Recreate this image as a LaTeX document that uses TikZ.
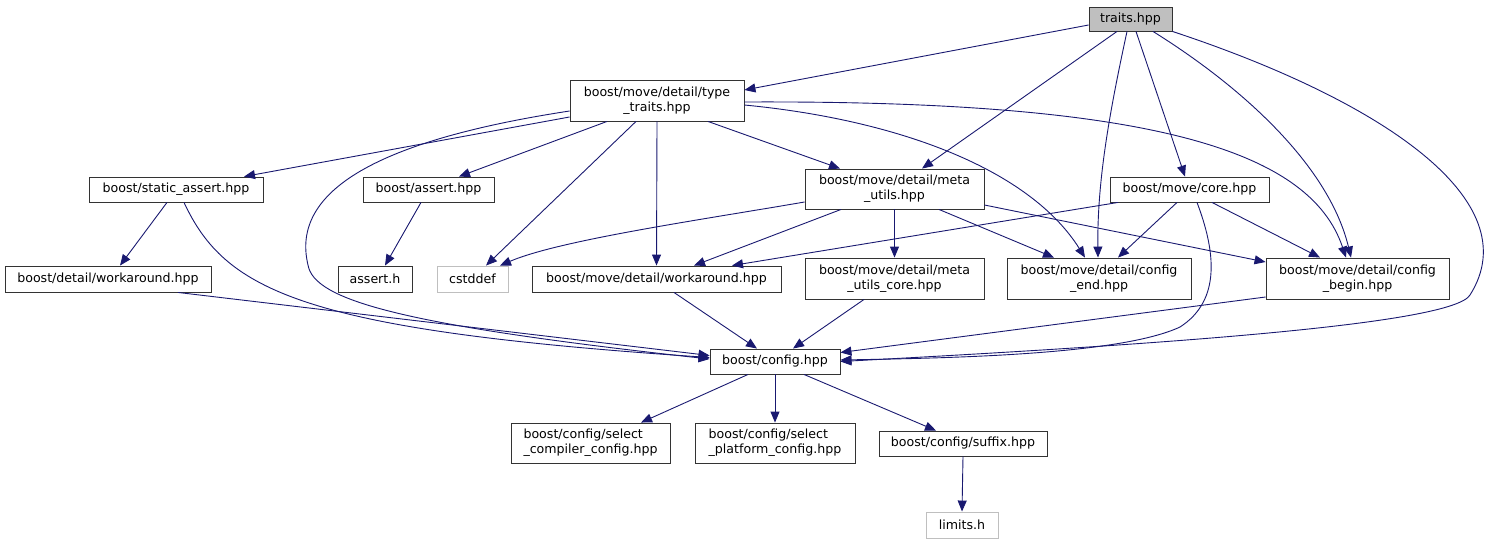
\documentclass[tikz,border=0pt]{standalone}
\usepackage{fontspec}
\usepackage{tikz}
\usetikzlibrary{arrows.meta}
\newfontfamily\doxfont{DejaVu Sans}
\definecolor{edgeblue}{HTML}{191970}
\definecolor{boxgray}{HTML}{BFBFBF}

\begin{document}
\begin{tikzpicture}[x=1pt, y=-1pt,
    file/.style={draw=black!80, line width=0.9pt, fill=white, inner sep=0pt,
      align=center, font=\doxfont\fontsize{12.6}{15}\selectfont},
    sysfile/.style={file, draw=boxgray},
    dep/.style={draw=edgeblue, line width=0.9pt,
      -{Triangle[length=11pt, width=9pt]}}
  ]
  % Page size of the reference graph
  \useasboundingbox (0,0) rectangle (1491,544);

  % Files, at the centres of their boxes
  \node[file, fill=boxgray, minimum width=83, minimum height=24]
    (traits) at (1130.5,19) {traits.hpp};
  \node[file, minimum width=174, minimum height=41]
    (tt) at (657,100.5) {boost/move/detail/type\\\_traits.hpp};
  \node[file, minimum width=174, minimum height=25]
    (sa) at (176,189.5) {boost/static\_assert.hpp};
  \node[file, minimum width=131, minimum height=25]
    (ba) at (428.5,189.5) {boost/assert.hpp};
  \node[file, minimum width=179, minimum height=40]
    (mu) at (894.5,189) {boost/move/detail/meta\\\_utils.hpp};
  \node[file, minimum width=159, minimum height=25]
    (core) at (1189.5,189.5) {boost/move/core.hpp};
  \node[file, minimum width=206, minimum height=26]
    (dw) at (108,279) {boost/detail/workaround.hpp};
  \node[file, minimum width=74, minimum height=26]
    (ah) at (375,279) {assert.h};
  \node[sysfile, minimum width=71, minimum height=26]
    (cst) at (472.5,279) {cstddef};
  \node[file, minimum width=249, minimum height=26]
    (mdw) at (656.5,279) {boost/move/detail/workaround.hpp};
  \node[file, minimum width=179, minimum height=41]
    (muc) at (894.5,278.5) {boost/move/detail/meta\\\_utils\_core.hpp};
  \node[file, minimum width=184, minimum height=41]
    (ce) at (1099,278.5) {boost/move/detail/config\\\_end.hpp};
  \node[file, minimum width=183, minimum height=41]
    (cb) at (1357.5,278.5) {boost/move/detail/config\\\_begin.hpp};
  \node[file, minimum width=130, minimum height=25]
    (cfg) at (775,361.5) {boost/config.hpp};
  \node[file, align=left, minimum width=159, minimum height=40]
    (scc) at (590.5,443) {boost/config/select\\\_compiler\_config.hpp};
  \node[file, align=left, minimum width=160, minimum height=40]
    (spc) at (775,443) {boost/config/select\\\_platform\_config.hpp};
  \node[file, minimum width=168, minimum height=25]
    (suf) at (963,443.5) {boost/config/suffix.hpp};
  \node[sysfile, minimum width=72, minimum height=26]
    (lim) at (962,525) {limits.h};

  % Includes of traits.hpp
  \draw[dep] ([yshift=-6pt]traits.west) -- ([yshift=10.5pt]tt.east);
  \draw[dep] ([xshift=-13.5pt]traits.south) -- ([xshift=27.5pt]mu.north);
  \draw[dep] ([xshift=-3.5pt]traits.south)
    .. controls (1110,110) and (1097,180) .. ([xshift=-1pt]ce.north);
  \draw[dep] ([xshift=5.5pt]traits.south) -- ([xshift=-4.5pt]core.north);
  \draw[dep] ([xshift=22.5pt]traits.south)
    .. controls (1250,92) and (1330,170) .. ([xshift=-6.5pt]cb.north);
  \draw[dep] (traits.south east)
    .. controls (1380,100) and (1530,200) .. (1470,295)
    .. controls (1452,325) and (1150,345) .. (cfg.east);

  % Includes of type_traits.hpp
  \draw[dep] ([yshift=-16.5pt]tt.west) -- ([xshift=68pt]sa.north);
  \draw[dep] ([xshift=-50pt]tt.south) -- ([xshift=30.5pt]ba.north);
  \draw[dep] ([xshift=-21pt]tt.south) -- ([xshift=13.5pt]cst.north);
  \draw[dep] (tt.south) -- (mdw.north);
  \draw[dep] ([xshift=51pt]tt.south) -- ([xshift=-54.5pt]mu.north);
  \draw[dep] ([yshift=-4.5pt]tt.east)
    .. controls (900,120) and (1030,170) .. ([xshift=-14pt]ce.north);
  \draw[dep] ([yshift=-1.5pt]tt.east)
    .. controls (1150,100) and (1310,150) .. ([xshift=-11.5pt]cb.north);
  \draw[dep] ([yshift=-10.5pt]tt.west)
    .. controls (380,140) and (290,190) .. (308,265)
    .. controls (314,300) and (400,325) .. ([yshift=2.5pt]cfg.west);

  % Includes of static_assert.hpp and assert.hpp
  \draw[dep] ([xshift=-9pt]sa.south) -- ([xshift=12pt]dw.north);
  \draw[dep] ([xshift=8pt]sa.south)
    .. controls (225,290) and (300,330) .. ([yshift=4pt]cfg.west);
  \draw[dep] ([xshift=-7.5pt]ba.south) -- ([xshift=10pt]ah.north);
  \draw[dep] ([xshift=70pt]dw.south) -- ([yshift=6pt]cfg.west);

  % Includes of meta_utils.hpp
  \draw[dep] ([yshift=-13pt]mu.west)
    .. controls (700,220) and (560,240) .. ([xshift=27.5pt]cst.north);
  \draw[dep] ([xshift=-53.5pt]mu.south) -- ([xshift=37.5pt]mdw.north);
  \draw[dep] (mu.south) -- (muc.north);
  \draw[dep] ([xshift=44.5pt]mu.south) -- ([xshift=-45pt]ce.north);
  \draw[dep] ([yshift=-16pt]mu.east) -- ([yshift=16.5pt]cb.west);

  % Includes of core.hpp
  \draw[dep] ([xshift=-71.5pt]core.south) -- ([xshift=75.5pt]mdw.north);
  \draw[dep] ([xshift=-12.5pt]core.south) -- ([xshift=19pt]ce.north);
  \draw[dep] ([xshift=22.5pt]core.south) -- ([xshift=-37.5pt]cb.north);
  \draw[dep] ([xshift=7.5pt]core.south)
    .. controls (1215,250) and (1222,300) .. (1180,327)
    .. controls (1120,355) and (950,358) .. ([yshift=1.5pt]cfg.east);

  % Everything ends in boost/config.hpp
  \draw[dep] ([xshift=17.5pt]mdw.south) -- ([xshift=-18pt]cfg.north);
  \draw[dep] ([xshift=-30.5pt]muc.south) -- ([xshift=18pt]cfg.north);
  \draw[dep] ([yshift=-18.5pt]cb.west) -- ([yshift=9pt]cfg.east);
  \draw[dep] ([xshift=-27pt]cfg.south) -- ([xshift=50.5pt]scc.north);
  \draw[dep] (cfg.south) -- (spc.north);
  \draw[dep] ([xshift=29pt]cfg.south) -- ([xshift=-27pt]suf.north);
  \draw[dep] (suf.south) -- (lim.north);
\end{tikzpicture}
\end{document}
